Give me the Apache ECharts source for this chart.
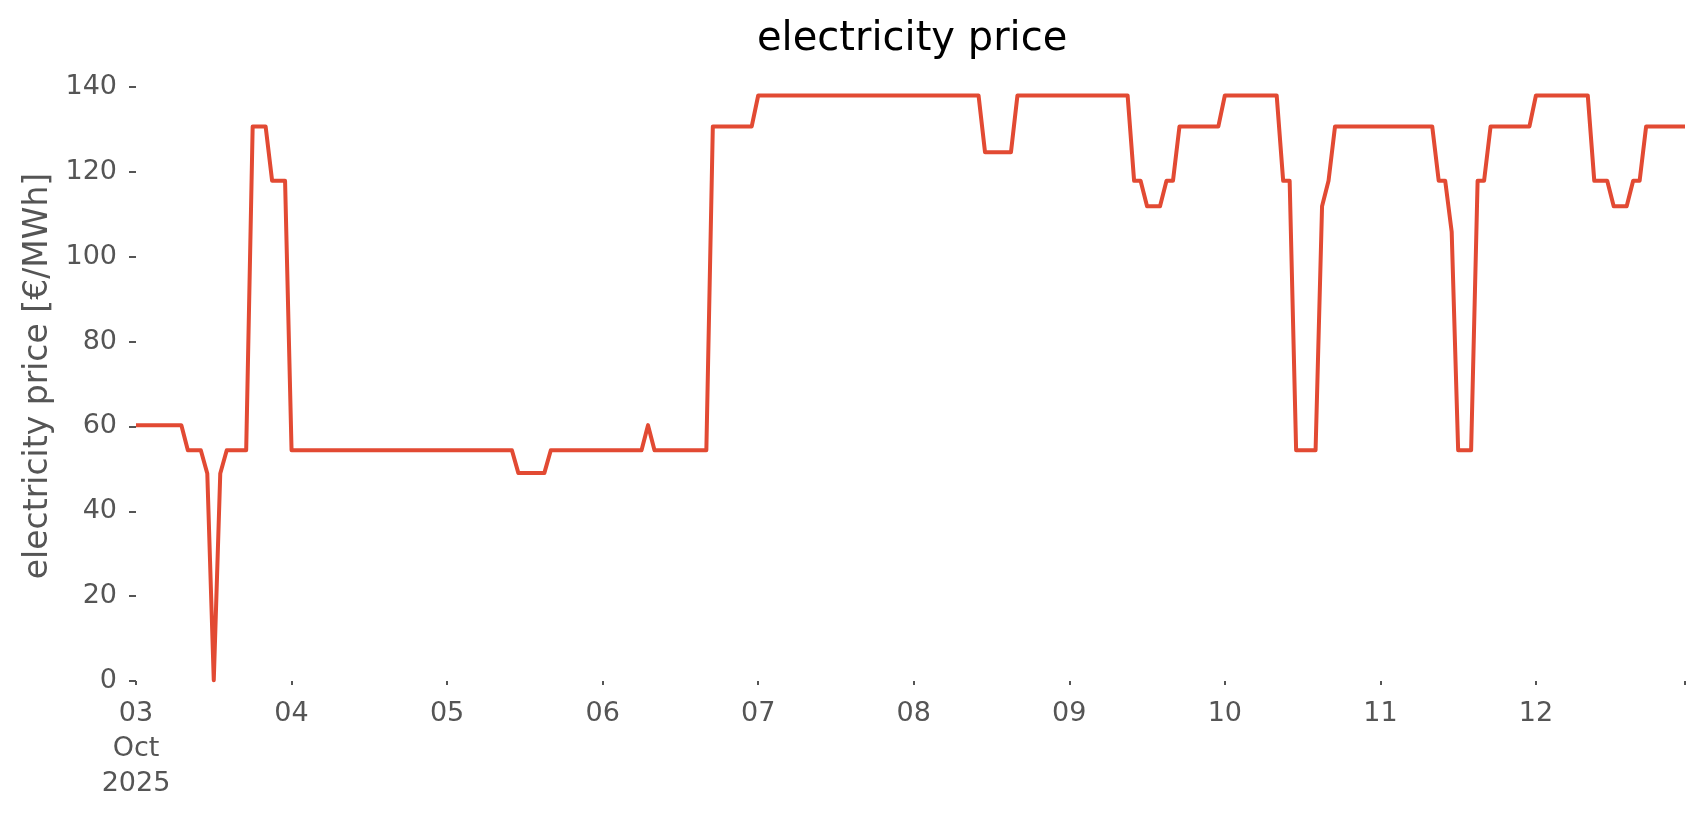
<!DOCTYPE html>
<html>
<head>
<meta charset="utf-8">
<script src="https://cdn.jsdelivr.net/npm/echarts@6/dist/echarts.min.js"></script>
<style>
html,body{margin:0;padding:0;background:#fff;}
#chart{width:1706px;height:815px;}
</style>
</head>
<body>
<div id="chart"></div>
<script>
// Hourly electricity price [€/MWh], 03 Oct 2025 00:00 .. 12 Oct 2025 23:00
const day03 = [60.3,60.3,60.3,60.3,60.3,60.3,60.3,60.3,54.4,54.4,54.4,48.9,0.2,48.9,54.4,54.4,54.4,54.4,130.7,130.7,130.7,117.9,117.9,117.9];
const day04 = [54.4,54.4,54.4,54.4,54.4,54.4,54.4,54.4,54.4,54.4,54.4,54.4,54.4,54.4,54.4,54.4,54.4,54.4,54.4,54.4,54.4,54.4,54.4,54.4];
const day05 = [54.4,54.4,54.4,54.4,54.4,54.4,54.4,54.4,54.4,54.4,54.4,49.0,49.0,49.0,49.0,49.0,54.4,54.4,54.4,54.4,54.4,54.4,54.4,54.4];
const day06 = [54.4,54.4,54.4,54.4,54.4,54.4,54.4,60.3,54.4,54.4,54.4,54.4,54.4,54.4,54.4,54.4,54.4,130.7,130.7,130.7,130.7,130.7,130.7,130.7];
const day07 = [138,138,138,138,138,138,138,138,138,138,138,138,138,138,138,138,138,138,138,138,138,138,138,138];
const day08 = [138,138,138,138,138,138,138,138,138,138,138,124.6,124.6,124.6,124.6,124.6,138,138,138,138,138,138,138,138];
const day09 = [138,138,138,138,138,138,138,138,138,138,117.9,117.9,111.9,111.9,111.9,117.9,117.9,130.7,130.7,130.7,130.7,130.7,130.7,130.7];
const day10 = [138,138,138,138,138,138,138,138,138,117.9,117.9,54.4,54.4,54.4,54.4,111.9,117.9,130.7,130.7,130.7,130.7,130.7,130.7,130.7];
const day11 = [130.7,130.7,130.7,130.7,130.7,130.7,130.7,130.7,130.7,117.9,117.9,105.9,54.4,54.4,54.4,117.9,117.9,130.7,130.7,130.7,130.7,130.7,130.7,130.7];
const day12 = [138,138,138,138,138,138,138,138,138,117.9,117.9,117.9,111.9,111.9,111.9,117.9,117.9,130.7,130.7,130.7,130.7,130.7,130.7,130.7];

const days = [day03, day04, day05, day06, day07, day08, day09, day10, day11, day12];
const dayLabels = ['03\nOct\n2025','04','05','06','07','08','09','10','11','12'];
const yTicks = [0,20,40,60,80,100,120,140];

const prices = [].concat(...days);
// hourly timestamps (category labels)
const start = Date.UTC(2025, 9, 3, 0, 0, 0);
const times = prices.map((_, i) => new Date(start + i * 3600000).toISOString().slice(0,16).replace('T',' '));

const chart = echarts.init(document.getElementById('chart'), null, {renderer:'canvas'});
const FONT = 'DejaVu Sans';
chart.setOption({
  backgroundColor: '#ffffff',
  animation: false,
  title: {
    text: 'electricity price',
    left: 752,
    top: 15,
    textStyle: {fontFamily: FONT, fontSize: 40, fontWeight: 'normal', color: '#000000', lineHeight: 40}
  },
  grid: {left: 136, right: 21, top: 87, bottom: 134, containLabel: false, outerBoundsMode: 'none'},
  xAxis: {
    type: 'category',
    data: times,
    boundaryGap: false,
    axisLine: {show: false},
    splitLine: {show: false},
    axisTick: {
      show: true,
      length: 4,
      interval: (i) => i % 24 === 0 || i === times.length - 1,
      lineStyle: {color: '#555555', width: 2}
    },
    axisLabel: {
      interval: (i) => i % 24 === 0,
      formatter: (v, i) => dayLabels[Math.round(i / 24)] || '',
      fontFamily: FONT, fontSize: 27, lineHeight: 35, color: '#555555', margin: 15, align: 'center'
    }
  },
  yAxis: {
    type: 'value',
    min: yTicks[0],
    max: yTicks[yTicks.length - 1],
    interval: 20,
    axisLine: {show: false},
    splitLine: {show: false},
    axisTick: {show: true, length: 7, lineStyle: {color: '#555555', width: 2}},
    axisLabel: {fontFamily: FONT, fontSize: 27, color: '#555555', margin: 19},
    name: 'electricity price [€/MWh]',
    nameLocation: 'middle',
    nameGap: 81,
    nameTextStyle: {fontFamily: FONT, fontSize: 33, color: '#555555', padding: [0, 0, 0, 16]}
  },
  series: [{
    type: 'line',
    data: prices,
    showSymbol: false,
    symbol: 'none',
    lineStyle: {color: '#E24A33', width: 4, join: 'round', cap: 'butt'},
    itemStyle: {color: '#E24A33'}
  }]
});
</script>
</body>
</html>
